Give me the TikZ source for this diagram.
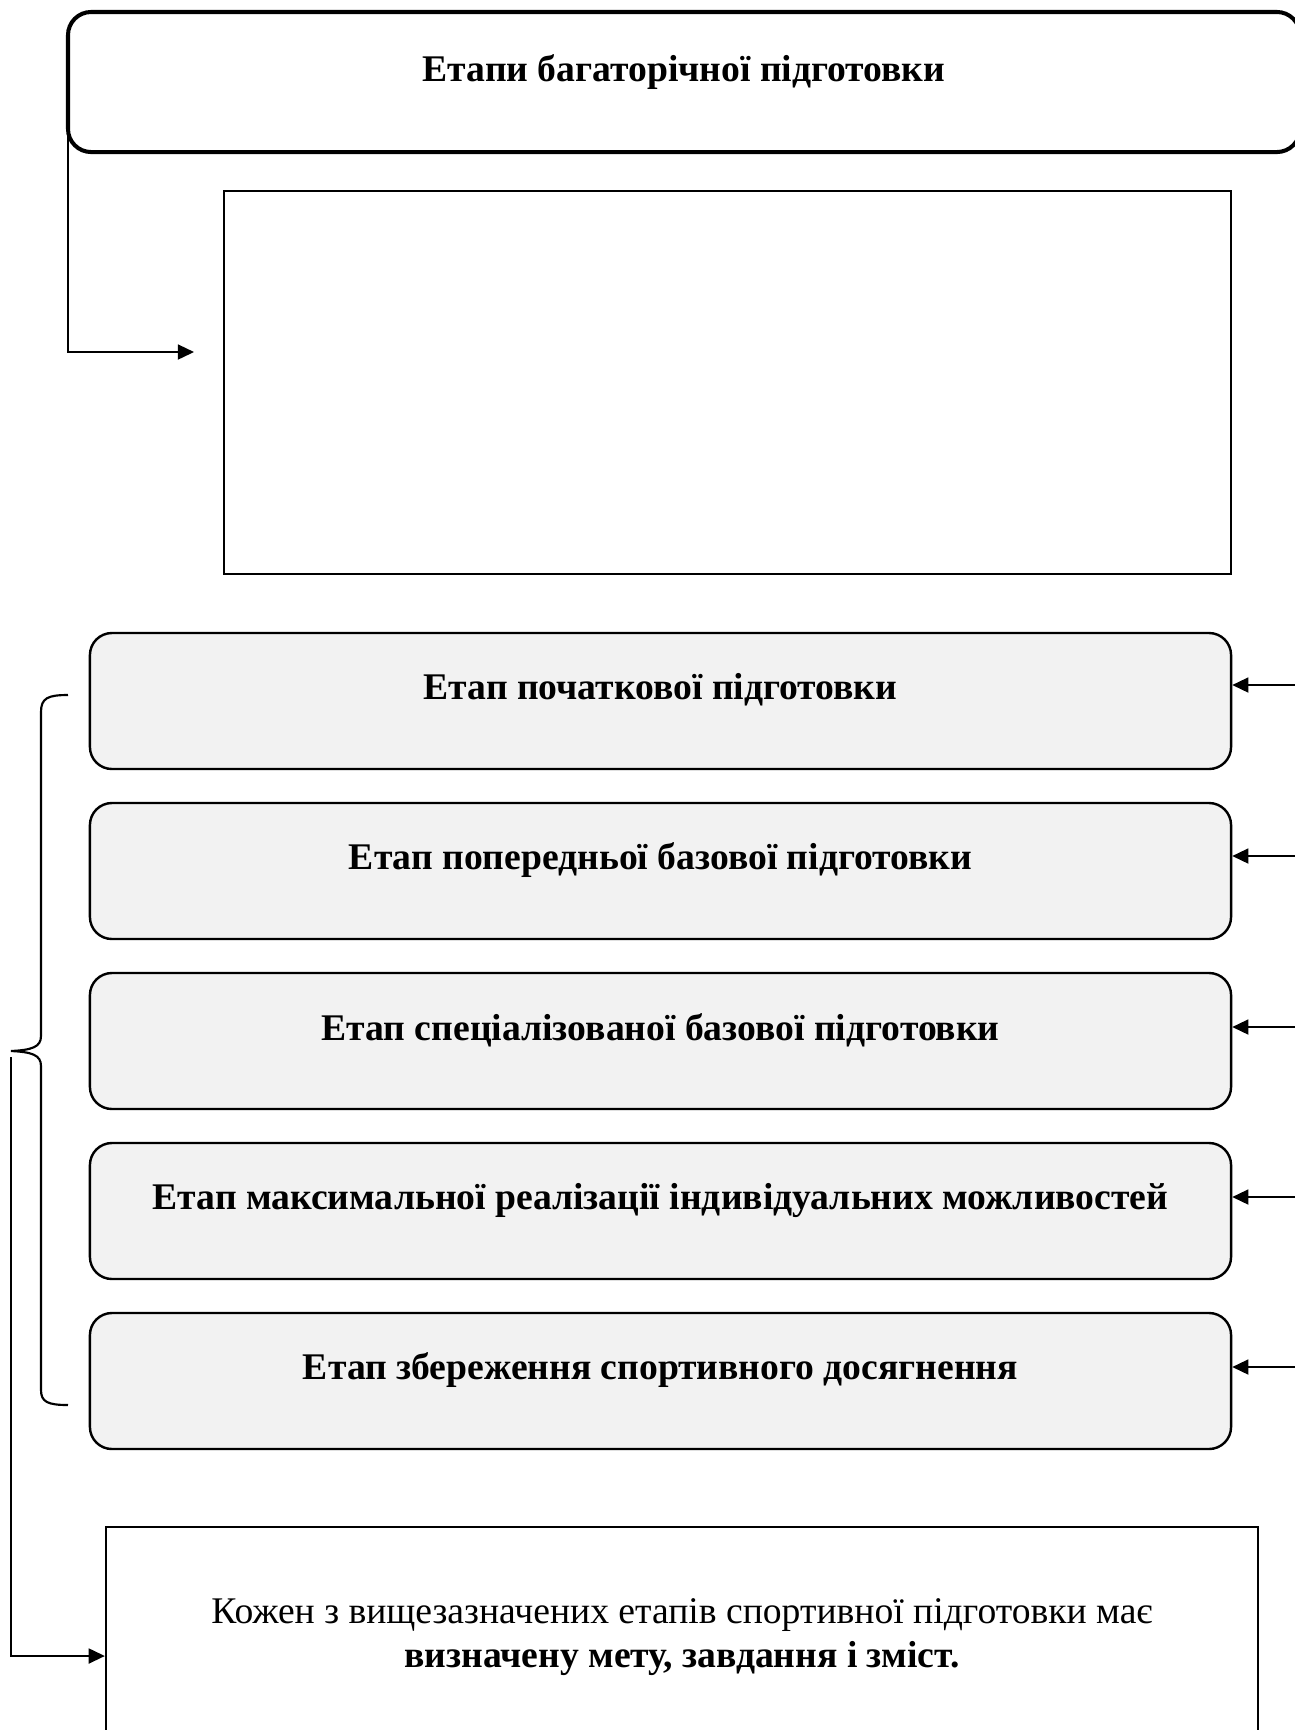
\documentclass[tikz,border=0pt]{standalone}
\usepackage{fontspec}
\setmainfont{Liberation Serif}
\usetikzlibrary{arrows.meta}
\definecolor{boxgray}{HTML}{F2F2F2}
\tikzset{
  titlebox/.style={draw, line width=1.5pt, rounded corners=8.6pt, inner sep=0pt, outer sep=0pt,
    minimum width=458.3pt, minimum height=52.1pt},
  emptybox/.style={draw, line width=0.9pt, inner sep=0pt,
    minimum width=374.6pt, minimum height=142.5pt},
  stagebox/.style={draw, line width=0.9pt, fill=boxgray, rounded corners=8.2pt,
    inner sep=0pt, minimum width=424.5pt, minimum height=50.6pt},
  notebox/.style={draw, line width=0.9pt, inner sep=0pt,
    minimum width=428.5pt, minimum height=96pt},
  stagetext/.style={font=\fontsize{14}{17}\selectfont\bfseries, inner sep=0pt},
  notetext/.style={font=\fontsize{14}{16.5}\selectfont, align=center, inner sep=0pt},
  conn/.style={line width=0.6pt, -{Triangle[length=6pt,width=5.6pt]}},
  bracepath/.style={line width=0.8pt},
}
\begin{document}
\begin{tikzpicture}[x=0.372pt,y=-0.372pt]
\useasboundingbox (0,0) rectangle (1295,1730);
\clip (0,0) rectangle (1295,1730);

% title
\node[titlebox] (title) at (684,82) {};
\node[stagetext] (titletext) at (684,72) {Етапи багаторічної підготовки};

% empty box
\node[emptybox] (empty) at (727.5,382.5) {};
\coordinate (a1) at (194,352);
\draw[conn] (title.west) |- (a1);

% stages
\node[stagebox] (s1) at (660.5,701) {};
\node[stagebox] (s2) at (660.5,871) {};
\node[stagebox] (s3) at (660.5,1041) {};
\node[stagebox] (s4) at (660.5,1211) {};
\node[stagebox] (s5) at (660.5,1381) {};
\node[stagetext] (t1) at (660.5,690) {Етап початкової підготовки};
\node[stagetext] (t2) at (660.5,860) {Етап попередньої базової підготовки};
\node[stagetext] (t3) at (660.5,1030) {Етап спеціалізованої базової підготовки};
\node[stagetext] (t4) at (660.5,1200) {Етап максимальної реалізації індивідуальних можливостей};
\node[stagetext] (t5) at (660.5,1370) {Етап збереження спортивного досягнення};

\foreach \i/\yy in {1/685,2/856,3/1027,4/1197,5/1367}{
  \coordinate (r\i) at (1310,\yy);
  \draw[conn] (r\i) -- (r\i -| s\i.east);
}

% brace
\coordinate (bt) at (11,1051);
\draw[bracepath] (68,695) .. controls (48,695) and (41,698) .. (41,712)
  -- (41,1036) .. controls (41,1047) and (32,1050) .. (bt)
  .. controls (32,1052) and (41,1055) .. (41,1066)
  -- (41,1390) .. controls (41,1402) and (48,1405) .. (68,1405);

% note
\node[notebox] (note) at (682,1656) {};
\node[notetext] (ntext) at (682,1637) {Кожен з вищезазначених етапів спортивної підготовки має\\\textbf{визначену мету, завдання і зміст.}};
\draw[conn] (bt) ++(0,6) |- (note.west);
\end{tikzpicture}
\end{document}
